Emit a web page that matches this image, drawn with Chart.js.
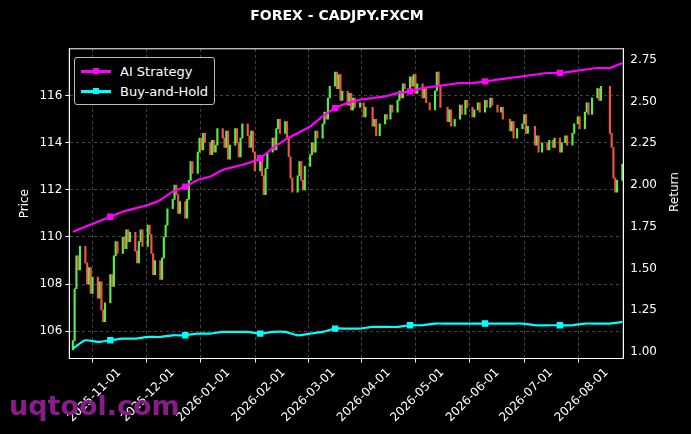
<!DOCTYPE html>
<html><head><meta charset="utf-8">
<script src="https://cdn.jsdelivr.net/npm/chart.js@4/dist/chart.umd.min.js"></script>
<style>
html,body{margin:0;padding:0;background:#000;}
#wrap{position:relative;width:691px;height:434px;}
#legend{position:absolute;left:74px;top:57px;border:1px solid #bbb;border-radius:3px;padding:3px 6px;font:13px "DejaVu Sans";color:#fff;background:#000;}
#legend div{display:flex;align-items:center;height:20px;}
#legend span.l{display:inline-block;width:30px;height:3px;margin-right:9px;position:relative;}
#legend span.l i{position:absolute;left:12px;top:-2px;width:6px;height:6px;}
#wm{position:absolute;left:9px;top:390px;font:bold 27px "DejaVu Sans";color:#8b1a8b;}
#rt{position:absolute;left:674px;top:192px;transform:translate(-50%,-50%) rotate(-90deg);font:12px "DejaVu Sans";color:#fff;}
</style></head><body>
<div id="wrap"><canvas id="c" width="691" height="434"></canvas>
<div id="legend"><div><span class="l" style="background:#ff00ff"><i style="background:#ff00ff"></i></span>AI Strategy</div>
<div><span class="l" style="background:#00ffff"><i style="background:#00ffff"></i></span>Buy-and-Hold</div></div>
<div id="rt">Return</div>
<div id="wm">uqtool.com</div></div>
<script>
const candleStart = '2025-10-06';
const closes = [
105.6,107.8,109.2,108.6,109.6, 108.9,108.0,108.7,107.6,108.3, 107.4,108.1,106.9,106.4,107.2, 108.4,107.9,109.2,109.8,109.3,
110.0,109.5,110.3,109.8,110.2, 109.4,108.9,109.8,110.3,109.6, 110.5,110.1,109.3,108.4,109.0, 108.2,109.1,110.0,110.5,111.2,
111.6,112.2,111.8,111.0,111.5, 110.8,111.6,112.4,113.2,112.7, 113.6,114.2,113.7,114.4,114.0, 113.5,114.1,113.6,113.9,114.6,
114.2,113.8,114.5,113.3,113.9, 114.6,114.0,113.4,114.2,114.8, 114.3,113.8,114.5,113.6,112.8, 113.4,112.6,111.8,112.9,113.6,
114.2,113.7,114.6,115.0,114.4, 114.9,114.2,113.4,112.5,111.9, 112.6,113.2,112.4,112.0,113.0, 113.5,114.0,113.6,114.5,114.2,
114.8,115.3,115.0,115.9,116.4, 117.0,116.3,116.9,115.8,116.2, 115.6,116.1,115.4,115.9,115.5, 115.7,null,115.1,115.5,null,
114.7,115.0,114.3,null,114.8, 115.2,115.0,null,115.6,115.3, 115.8,116.2,115.9,116.5,116.3, 116.8,116.4,116.9,116.1,116.5,
115.9,116.3,115.7,null,115.4, 116.2,117.0,116.4,115.5,null, 114.9,115.4,114.7,null,115.0, 115.6,115.2,null,115.8,115.5,
115.1,115.4,null,115.7,115.3, 115.8,115.5,null,115.9,115.6, 115.3,null,115.5,115.0,null, 114.5,114.9,114.2,null,114.6,
114.8,115.2,114.4,114.7,null, 113.9,114.3,113.6,null,114.0, 113.7,114.1,null,113.8,114.2, 113.6,114.0,null,114.3,113.9,
114.4,114.8,null,115.1,114.6, 115.3,115.7,115.2,null,115.9, 116.3,115.8,116.4,null,null, 114.4,113.8,112.5,111.9,112.4,
113.1,114.2];
const lineDates = ['2025-10-06','2025-10-13','2025-10-20','2025-10-27','2025-11-03','2025-11-10','2025-11-17','2025-11-24','2025-12-01','2025-12-08','2025-12-15','2025-12-22','2025-12-29','2026-01-05','2026-01-12','2026-01-19','2026-01-26','2026-02-02','2026-02-09','2026-02-16','2026-02-23','2026-03-02','2026-03-09','2026-03-16','2026-03-23','2026-03-30','2026-04-06','2026-04-13','2026-04-20','2026-04-27','2026-05-04','2026-05-11','2026-05-18','2026-05-25','2026-06-01','2026-06-08','2026-06-15','2026-06-22','2026-06-29','2026-07-06','2026-07-13','2026-07-20','2026-07-27','2026-08-03','2026-08-10'];
const aiStrategy = [1.72,1.75,1.78,1.81,1.84,1.86,1.88,1.91,1.96,1.99,2.03,2.05,2.09,2.11,2.13,2.16,2.22,2.27,2.31,2.35,2.41,2.46,2.49,2.51,2.52,2.53,2.55,2.56,2.58,2.59,2.60,2.61,2.61,2.62,2.63,2.64,2.65,2.66,2.67,2.67,2.68,2.69,2.70,2.70,2.73];
const buyHold = [1.02,1.07,1.06,1.07,1.08,1.08,1.09,1.09,1.10,1.10,1.11,1.11,1.12,1.12,1.12,1.11,1.12,1.12,1.10,1.11,1.12,1.14,1.14,1.14,1.15,1.15,1.15,1.16,1.16,1.17,1.17,1.17,1.17,1.17,1.17,1.17,1.17,1.16,1.16,1.16,1.16,1.17,1.17,1.17,1.18];
const monthTicks = ['2025-11-01','2025-12-01','2026-01-01','2026-02-01','2026-03-01','2026-04-01','2026-05-01','2026-06-01','2026-07-01','2026-08-01'];
const priceTicks = [106,108,110,112,114,116];
const returnTicks = [1.00,1.25,1.50,1.75,2.00,2.25,2.50,2.75];

const DAY = 86400000;
const t = s => Date.parse(s + 'T00:00:00Z');
const candles = [];
let d = t(candleStart), prev = null;
for (let i = 0; i < closes.length; i++) {
  while ([0,6].includes(new Date(d).getUTCDay())) d += DAY;
  const c = closes[i];
  if (c !== null) {
    const o = prev === null ? c - 0.4 : prev;
    candles.push({x: d, y: [o, c], up: c >= o});
    prev = c;
  }
  d += DAY;
}
const aiPts = lineDates.map((s,i)=>({x:t(s), y:aiStrategy[i]}));
const bhPts = lineDates.map((s,i)=>({x:t(s), y:buyHold[i]}));
const marker = ctx => (ctx.dataIndex % 6 === 3 ? 3 : 0);
const gridCol = 'rgba(150,150,150,0.45)';

new Chart(document.getElementById('c'), {
  data: {datasets: [
    {type:'line', label:'AI Strategy', data:aiPts, yAxisID:'yr', borderColor:'#ff00ff', backgroundColor:'#ff00ff', borderWidth:2.2, pointStyle:'rect', pointRadius:marker, tension:0.2, order:0},
    {type:'line', label:'Buy-and-Hold', data:bhPts, yAxisID:'yr', borderColor:'#00ffff', backgroundColor:'#00ffff', borderWidth:2.2, pointStyle:'rect', pointRadius:marker, tension:0.2, order:0},
    {type:'bar', label:'Price', data:candles, yAxisID:'yp', barThickness:1.5, borderSkipped:false,
      backgroundColor: candles.map(c=>c.up?'#55ee44':'#ee5544'), order:1}
  ]},
  options: {
    responsive:false, animation:false, maintainAspectRatio:false,
    layout:{padding:{left:14,right:31,top:0,bottom:6}},
    plugins:{legend:{display:false}, tooltip:{enabled:false},
      title:{display:true, text:'FOREX - CADJPY.FXCM', color:'#fff', font:{family:'DejaVu Sans', size:14, weight:'bold'}, padding:{top:8,bottom:24}}},
    scales:{
      x:{type:'linear', min:t('2025-10-04'), max:t('2026-08-10')+12*3600000, offset:false,
        afterBuildTicks: ax => { ax.ticks = monthTicks.map(s=>({value:t(s)})); },
        ticks:{color:'#fff', font:{family:'DejaVu Sans', size:12}, minRotation:45, maxRotation:45, autoSkip:false,
          callback: v => new Date(v).toISOString().slice(0,10)},
        grid:{color:gridCol, tickColor:'#fff', tickLength:4},
        border:{color:'#fff', width:1, dash:[3,3]}},
      yp:{type:'linear', position:'left', min:104.84, max:117.99,
        afterBuildTicks: ax => { ax.ticks = priceTicks.map(v=>({value:v})); },
        title:{display:true, text:'Price', color:'#fff', font:{family:'DejaVu Sans', size:12}},
        ticks:{color:'#fff', font:{family:'DejaVu Sans', size:12}},
        grid:{color:gridCol, tickColor:'#fff', tickLength:4},
        border:{color:'#fff', width:1, dash:[3,3]}},
      yr:{type:'linear', position:'right', min:0.961, max:2.815,
        afterBuildTicks: ax => { ax.ticks = returnTicks.map(v=>({value:v})); },
        ticks:{color:'#fff', font:{family:'DejaVu Sans', size:12}, callback:v=>v.toFixed(2)},
        grid:{display:false, tickColor:'#fff', tickLength:4},
        border:{color:'#fff', width:1}}
    }
  },
  plugins:[{id:'frame', afterDraw(ch){const a=ch.chartArea,c=ch.ctx;c.save();c.strokeStyle='#fff';c.lineWidth=1;c.strokeRect(a.left,a.top,a.right-a.left,a.bottom-a.top);c.restore();}}]
});
</script></body></html>
